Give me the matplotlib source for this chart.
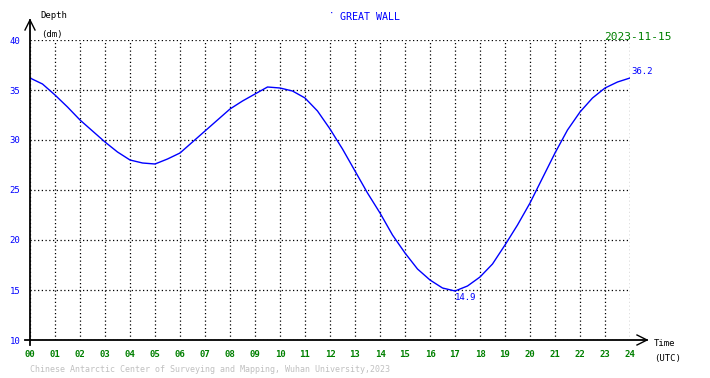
import matplotlib
matplotlib.use("Agg")
import matplotlib.pyplot as plt
from matplotlib.lines import Line2D

# tide curve, half-hour steps (UTC hours, depth in dm)
hours = [0, 0.5, 1, 1.5, 2, 2.5, 3, 3.5, 4, 4.5, 5, 5.5, 6, 6.5, 7, 7.5, 8, 8.5,
         9, 9.5, 10, 10.5, 11, 11.5, 12, 12.5, 13, 13.5, 14, 14.5, 15, 15.5,
         16, 16.5, 17, 17.5, 18, 18.5, 19, 19.5, 20, 20.5, 21, 21.5, 22, 22.5,
         23, 23.5, 24]
depth = [36.2, 35.6, 34.5, 33.3, 32.0, 30.9, 29.8, 28.8, 28.0, 27.7, 27.6, 28.1,
         28.7, 29.8, 30.9, 32.0, 33.1, 33.9, 34.6, 35.3, 35.2, 34.9, 34.2, 32.9,
         31.1, 29.1, 26.9, 24.7, 22.7, 20.5, 18.7, 17.1, 16.0, 15.2, 14.9, 15.4,
         16.3, 17.6, 19.5, 21.5, 23.7, 26.2, 28.7, 31.0, 32.8, 34.2, 35.2, 35.8,
         36.2]
x_ticks = list(range(0, 25))
x_labels = ["%02d" % h for h in x_ticks]
y_ticks = [10, 15, 20, 25, 30, 35, 40]

station = "GREAT WALL"
date = "2023-11-15"
footer = "Chinese Antarctic Center of Surveying and Mapping, Wuhan University,2023"

W, H = 710, 378
MONO = "DejaVu Sans Mono"
BLUE = "#0000ff"
GREEN = "#008000"


def fx(px):
    return px / W


def fy(py):
    return 1 - py / H


fig = plt.figure(figsize=(7.1, 3.78), dpi=100)
ax = fig.add_axes([fx(30), fy(340), 600 / W, 300 / H])

ax.plot(hours, depth, color=BLUE, linewidth=1.0)
ax.set_xlim(0, 24)
ax.set_ylim(10, 40)
ax.set_xticks(x_ticks)
ax.set_xticklabels(x_labels, color=GREEN, family=MONO, fontsize=6.5, weight="bold")
ax.set_yticks(y_ticks)
ax.set_yticklabels([str(v) for v in y_ticks], color=BLUE, family=MONO, fontsize=6.5)
ax.tick_params(length=0, pad=7)
ax.grid(True, color="black", linestyle=(0, (1, 2)), linewidth=0.9)
for s in ax.spines.values():
    s.set_visible(False)

# min / max labels
i_min = depth.index(min(depth))
ax.text(hours[i_min], depth[i_min] - 0.2, "%.1f" % depth[i_min], color=BLUE,
        family=MONO, fontsize=6.5, ha="left", va="top")
ax.text(hours[-1] + 0.05, depth[-1] + 0.2, "%.1f" % depth[-1], color=BLUE,
        family=MONO, fontsize=6.5, ha="left", va="bottom")

# axis lines with arrows
lw = 1.3
fig.add_artist(Line2D([fx(30), fx(30)], [fy(345), fy(20)], color="black", lw=lw))
fig.add_artist(Line2D([fx(25), fx(647)], [fy(340), fy(340)], color="black", lw=lw))
fig.add_artist(Line2D([fx(25), fx(30), fx(35)], [fy(30), fy(20), fy(30)], color="black", lw=1))
fig.add_artist(Line2D([fx(637), fx(647), fx(637)], [fy(335), fy(340), fy(345)], color="black", lw=1))

fig.text(fx(40), fy(16), "Depth", family=MONO, fontsize=6.5, va="center")
fig.text(fx(41), fy(34), "(dm)", family=MONO, fontsize=6.5, va="center")
fig.text(fx(654), fy(344), "Time", family=MONO, fontsize=6.5, va="center")
fig.text(fx(654), fy(358), "(UTC)", family=MONO, fontsize=6.5, va="center")
fig.text(fx(329), fy(14), "\u00b7", color=BLUE, family=MONO, fontsize=6.5, va="center")
fig.text(fx(340), fy(17), station, color=BLUE, family=MONO, fontsize=7.2, va="center")
fig.text(fx(672), fy(37), date, color=GREEN, family=MONO, fontsize=8, ha="right", va="center")
fig.text(fx(30), fy(370), footer, color="#c0c0c0", family=MONO, fontsize=6.0, va="center")

fig.savefig("out.png", dpi=100)
